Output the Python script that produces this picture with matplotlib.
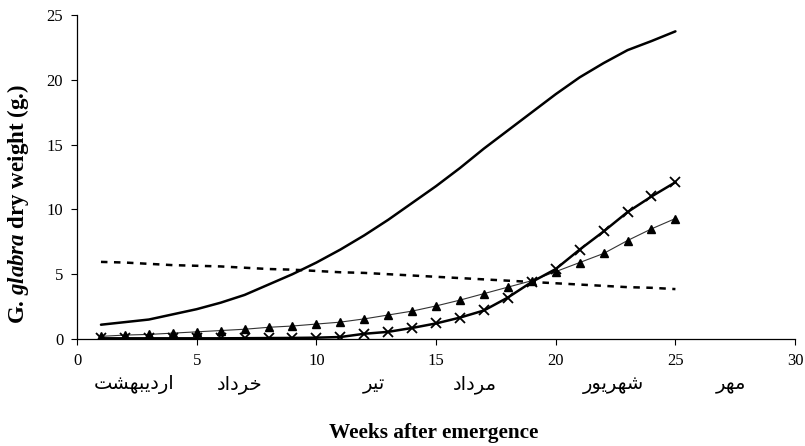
import numpy as np
import matplotlib
matplotlib.use('Agg')
import matplotlib.pyplot as plt

plt.rcParams['font.family'] = ['Liberation Serif', 'DejaVu Sans']
plt.rcParams['mathtext.fontset'] = 'custom'
plt.rcParams['mathtext.rm'] = 'Liberation Serif:bold'
plt.rcParams['mathtext.bf'] = 'Liberation Serif:bold'
plt.rcParams['mathtext.it'] = 'Liberation Serif:italic:bold'
plt.rcParams['mathtext.bfit'] = 'Liberation Serif:italic:bold'

'''
    Data read off the picture
'''
weeks = list(range(1, 26))
solid = [1.1, 1.3, 1.5, 1.9, 2.3, 2.8, 3.4, 4.2, 5.0, 5.9, 6.9, 8.0, 9.2,
         10.5, 11.8, 13.2, 14.7, 16.1, 17.5, 18.9, 20.2, 21.3, 22.3, 23.0, 23.75]
dashed = [5.95, 5.9, 5.8, 5.7, 5.65, 5.6, 5.5, 5.4, 5.35, 5.25, 5.15, 5.1, 5.0,
          4.9, 4.8, 4.7, 4.6, 4.5, 4.4, 4.3, 4.2, 4.1, 4.0, 3.95, 3.85]
tri = [0.2, 0.3, 0.35, 0.45, 0.55, 0.65, 0.75, 0.9, 1.0, 1.15, 1.3, 1.55, 1.85,
       2.15, 2.55, 3.0, 3.5, 4.0, 4.5, 5.2, 5.9, 6.6, 7.6, 8.5, 9.3]
cross = [0.05, 0.05, 0.05, 0.05, 0.05, 0.05, 0.06, 0.07, 0.08, 0.1, 0.15, 0.4, 0.55,
         0.85, 1.2, 1.65, 2.2, 3.2, 4.4, 5.4, 6.9, 8.3, 9.8, 11.0, 12.1]

x_ticks = [0, 5, 10, 15, 20, 25, 30]
y_ticks = [0, 5, 10, 15, 20, 25]
months = ['اردیبهشت', 'خرداد', 'تیر', 'مرداد', 'شهریور', 'مهر']
month_pos = [2.4, 6.8, 12.4, 16.6, 22.4, 27.3]

# matplotlib does no arabic shaping -> do it by hand with presentation forms
FORMS = {
    'ا': ('\uFE8D', '\uFE8E', None, None),
    'ر': ('\uFEAD', '\uFEAE', None, None),
    'د': ('\uFEA9', '\uFEAA', None, None),
    'و': ('\uFEED', '\uFEEE', None, None),
    'ب': ('\uFE8F', '\uFE90', '\uFE91', '\uFE92'),
    'ت': ('\uFE95', '\uFE96', '\uFE97', '\uFE98'),
    'ش': ('\uFEB5', '\uFEB6', '\uFEB7', '\uFEB8'),
    'خ': ('\uFEA5', '\uFEA6', '\uFEA7', '\uFEA8'),
    'م': ('\uFEE1', '\uFEE2', '\uFEE3', '\uFEE4'),
    'ه': ('\uFEE9', '\uFEEA', '\uFEEB', '\uFEEC'),
    'ی': ('\uFBFC', '\uFBFD', '\uFBFE', '\uFBFF'),
}

def shape(word):
    out = []
    for i, ch in enumerate(word):
        f = FORMS[ch]
        prev = i > 0 and FORMS[word[i-1]][2] is not None
        nxt = i < len(word)-1 and f[2] is not None
        if prev and nxt:
            out.append(f[3])
        elif prev:
            out.append(f[1])
        elif nxt:
            out.append(f[2])
        else:
            out.append(f[0])
    return ''.join(out[::-1])

fig = plt.figure(figsize=(8.05, 4.46), dpi=100)
ax = fig.add_axes([0.0957, 0.240, 0.892, 0.726])

ax.plot(weeks, solid, color='black', lw=1.8, solid_capstyle='round')
ax.plot(weeks, dashed, color='black', lw=1.8, dashes=(2.6, 2.6))
ax.plot(weeks, tri, color='#333333', lw=0.8, marker='^', ms=6,
        mfc='black', mec='black')
ax.plot(weeks, cross, color='black', lw=1.8, marker='x', ms=7, mew=1.3)

ax.set_xlim(0, 30)
ax.set_ylim(0, 25)
ax.set_xticks(x_ticks)
ax.set_yticks(y_ticks)
ax.tick_params(direction='out', length=4, width=0.8, labelsize=12, pad=6)
for s in ['top', 'right']:
    ax.spines[s].set_visible(False)
for s in ['left', 'bottom']:
    ax.spines[s].set_linewidth(0.9)

for m, p in zip(months, month_pos):
    ax.text(p, -0.142, shape(m), transform=ax.get_xaxis_transform(),
            ha='center', va='center', fontsize=14, family=['DejaVu Sans'])

ax.set_xlabel('Weeks after emergence', fontsize=15.3, fontweight='bold', va='center')
ax.xaxis.set_label_coords(0.496, -0.29)
ax.set_ylabel(r'G. $\mathbfit{glabra}$ dry weight (g.)', fontsize=16.5,
              fontweight='bold', va='center')
ax.yaxis.set_label_coords(-0.082, 0.417)

fig.savefig('out.png', dpi=100)
